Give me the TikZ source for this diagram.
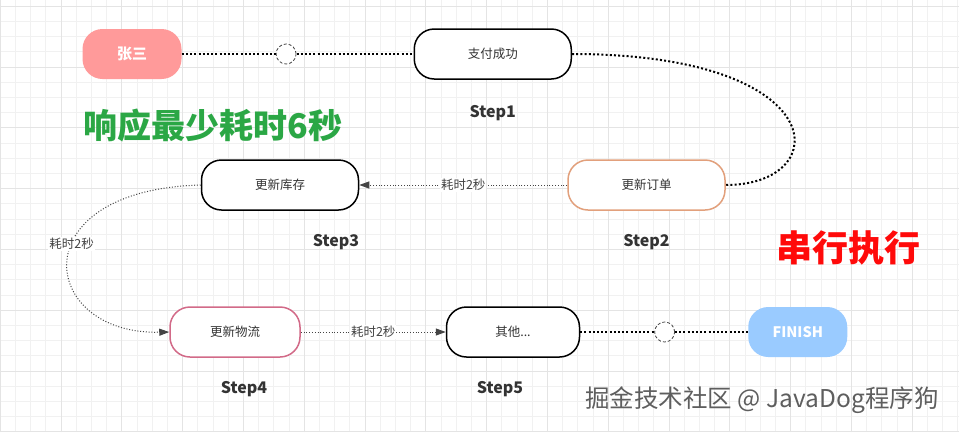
\documentclass[tikz,border=0pt]{standalone}
\usepackage{fontspec}
\setmainfont{Noto Sans CJK SC}
\usetikzlibrary{positioning, arrows.meta}
\definecolor{bgStart}{HTML}{FF9A9A}
\definecolor{bgFinish}{HTML}{9ACBFF}
\definecolor{borderOrder}{HTML}{E2A07C}
\definecolor{borderLogistic}{HTML}{D26A88}
\definecolor{textMain}{HTML}{333333}
\definecolor{arrowColor}{HTML}{444444}
\definecolor{gridMinor}{HTML}{F1F1F1}
\definecolor{gridMajor}{HTML}{E4E4E4}
\definecolor{titleGreen}{HTML}{2BA745}
\definecolor{titleRed}{HTML}{FF0A0A}
\definecolor{markGray}{HTML}{5E5E5E}
\tikzset{
  stepnode/.style={
    draw=black, fill=white, rounded corners=20pt,
    minimum width=157pt, minimum height=50pt, inner sep=0pt,
    font=\fontsize{12.5}{14}\selectfont, text=textMain, line width=1.5pt,
  },
  startnode/.style={
    fill=bgStart, rounded corners=20pt,
    minimum width=99pt, minimum height=50pt, inner sep=0pt,
    font=\fontsize{15}{17}\selectfont\bfseries, text=white,
  },
  endnode/.style={
    fill=bgFinish, rounded corners=20pt,
    minimum width=99pt, minimum height=50pt, inner sep=0pt,
    font=\fontsize{14.5}{17}\selectfont\bfseries, text=white,
  },
  hollow/.style={
    circle, draw=arrowColor, fill=white, dash pattern=on 3pt off 2pt,
    minimum size=20pt, inner sep=0pt, line width=0.8pt,
  },
  steplabel/.style={
    font=\fontsize{16}{18}\selectfont\bfseries, text=textMain, inner sep=0pt,
  },
  timelabel/.style={
    fill=white, inner sep=1pt, font=\fontsize{12.5}{14}\selectfont, text=arrowColor,
  },
  flowline/.style={
    line width=2pt, dash pattern=on 2pt off 2.2pt, color=black,
  },
  timearrow/.style={
    -{Triangle[length=10pt, width=7pt]}, line width=1pt,
    dash pattern=on 1pt off 1.8pt, color=arrowColor,
  },
}

\begin{document}
\begin{tikzpicture}[x=1pt, y=-1pt]

  % === Canvas and grid ===
  \useasboundingbox (0,0) rectangle (959,432);
  \fill[white] (0,0) rectangle (959,432);
  \draw[gridMinor, line width=0.6pt, yshift=-6pt] (0,-6) grid[step=15.2pt] (959,426);
  \draw[gridMajor, line width=0.6pt, yshift=-6pt] (0,-6) grid[step=60.8pt] (959,426);

  % === Top row: start to payment ===
  \node[startnode] (zhangsan) at (132,54) {张三};
  \node[hollow, right=94pt of zhangsan] (gapA) {};
  \node[stepnode, right=117pt of gapA] (paid) {支付成功};
  \node[steplabel, below=25pt of paid] (step1) {Step1};

  % === Titles ===
  \node[font=\fontsize{34}{38}\selectfont\bfseries, text=titleGreen] (latency) at (213,126) {响应最少耗时6秒};
  \node[font=\fontsize{36}{40}\selectfont\bfseries, text=titleRed] (serial) at (848,248) {串行执行};

  % === Middle row: order and stock ===
  \node[stepnode] (stock) at (280,185) {更新库存};
  \node[stepnode, draw=borderOrder, right=208pt of stock] (order) {更新订单};
  \node[steplabel, below=23pt of order] (step2) {Step2};
  \node[steplabel, below=23pt of stock, xshift=56pt] (step3) {Step3};

  % === Bottom row: logistics to finish ===
  \node[stepnode, draw=borderLogistic, minimum width=130pt] (logistics) at (235,332) {更新物流};
  \node[stepnode, minimum width=133pt, right=145pt of logistics] (other) {其他...};
  \node[hollow, right=74pt of other] (gapB) {};
  \node[endnode, right=73pt of gapB] (finish) {FINISH};
  \node[steplabel, below=23pt of logistics, xshift=9pt] (step4) {Step4};
  \node[steplabel, below=23pt of other, xshift=-13pt] (step5) {Step5};

  % === Watermark ===
  \node[font=\fontsize{24.5}{28}\selectfont, text=markGray] (mark) at (762,400) {掘金技术社区 @ JavaDog程序狗};

  % === Connectors ===
  \draw[flowline] (zhangsan) -- (gapA);
  \draw[flowline] (gapA) -- (paid);
  \draw[flowline] (paid.east) .. controls +(262,0) and +(110,0) .. (order.east);
  \draw[timearrow] (order) -- node[timelabel] {耗时2秒} (stock);
  \draw[timearrow] (stock.west) .. controls +(-182,5) and +(-130,3) .. node[timelabel, pos=0.42] {耗时2秒} (logistics.west);
  \draw[timearrow] (logistics) -- node[timelabel] {耗时2秒} (other);
  \draw[flowline] (other) -- (gapB);
  \draw[flowline] (gapB) -- (finish);

\end{tikzpicture}
\end{document}
